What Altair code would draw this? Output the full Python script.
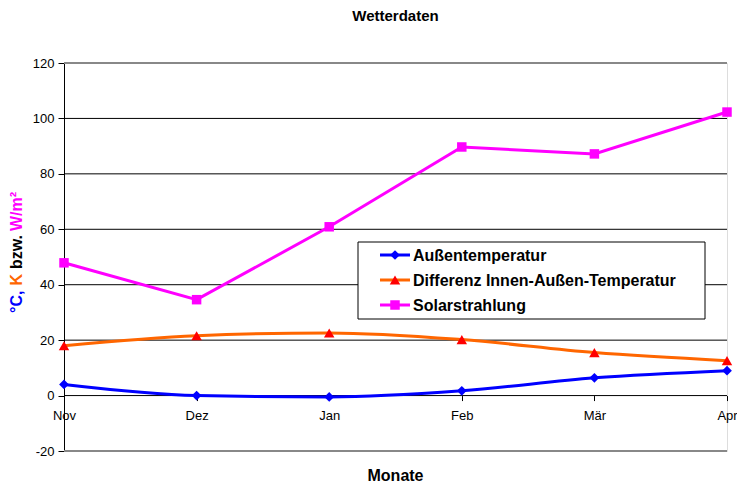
import altair as alt
import pandas as pd

# ---- data ----
months = ["Nov", "Dez", "Jan", "Feb", "Mär", "Apr"]
aussen = [4.0, 0.0, -0.5, 1.7, 6.4, 9.0]
differenz = [18.0, 21.6, 22.6, 20.2, 15.5, 12.6]
solar = [47.9, 34.6, 60.9, 89.7, 87.2, 102.3]

series_names = ["Außentemperatur", "Differenz Innen-Außen-Temperatur", "Solarstrahlung"]
series_values = [aussen, differenz, solar]
line_colors = ["#0000FF", "#FF6600", "#FF00FF"]
marker_colors = ["#0000FF", "#FF0000", "#FF00FF"]
marker_shapes = ["diamond", "triangle-up", "square"]
marker_sizes = [95, 110, 90]
interpolations = ["monotone", "monotone", "linear"]

y_ticks = [-20, 0, 20, 40, 60, 80, 100, 120]
grid_values = [0, 20, 40, 60, 80, 100]
border_values = [-20, 120]

title_text = "Wetterdaten"
x_title = "Monate"
y_title_parts = ["°C,", "K", "bzw.", "W/m²"]
y_title_colors = ["#0000FF", "#FF6600", "#000000", "#FF00FF"]

W, H = 663, 388
FONT = "Liberation Sans"

y_scale = alt.Scale(domain=[-20, 120], nice=False)
x_scale = alt.Scale(type="point", padding=0, domain=months)

zero_offset = -(H * 20 / 140)

x_enc = alt.X(
    "Monat:N", sort=months, scale=x_scale,
    axis=alt.Axis(title=None, offset=zero_offset, domain=False, grid=False,
                  tickColor="black", tickSize=5, labelPadding=9, labelFontSize=13,
                  labelColor="black", labelAngle=0, labelOverlap=False, labelFont=FONT),
)
y_enc_axis = alt.Axis(title=None, values=y_ticks, grid=False, domainColor="black",
                      tickColor="black", tickSize=6, labelPadding=4, labelFontSize=13,
                      labelColor="black", labelFont=FONT,
                      labelExpr="datum.value < 0 ? '-' + abs(datum.value) : '' + datum.value")

rows = []
for name, vals in zip(series_names, series_values):
    for m, v in zip(months, vals):
        rows.append({"Monat": m, "Wert": v, "Serie": name})
df = pd.DataFrame(rows)

layers = []

# border lines (gray) and gridlines (black)
layers.append(
    alt.Chart(pd.DataFrame({"v": border_values})).mark_rule(color="#888888", strokeWidth=2)
    .encode(y=alt.Y("v:Q", scale=y_scale, axis=y_enc_axis))
)
layers.append(
    alt.Chart(pd.DataFrame({"v": grid_values})).mark_rule(color="black", strokeWidth=1)
    .encode(y=alt.Y("v:Q", scale=y_scale, axis=y_enc_axis))
)

for i, name in enumerate(series_names):
    sub = df[df["Serie"] == name]
    layers.append(
        alt.Chart(sub).mark_line(color=line_colors[i], strokeWidth=3, interpolate=interpolations[i])
        .encode(x=x_enc, y=alt.Y("Wert:Q", scale=y_scale, axis=y_enc_axis))
    )
for i, name in enumerate(series_names):
    sub = df[df["Serie"] == name]
    layers.append(
        alt.Chart(sub).mark_point(shape=marker_shapes[i], filled=True, fill=marker_colors[i],
                                  opacity=1, size=marker_sizes[i], strokeWidth=0)
        .encode(x=x_enc, y=alt.Y("Wert:Q", scale=y_scale, axis=y_enc_axis))
    )

# legend box
leg_df = pd.DataFrame({"name": series_names})
layers.append(
    alt.Chart(leg_df.head(1)).mark_rect(fill="white", stroke="black", strokeWidth=1)
    .encode(x=alt.value(294), x2=alt.value(641), y=alt.value(179), y2=alt.value(256))
)
row_y = [192, 217, 242]
for i, name in enumerate(series_names):
    d = pd.DataFrame({"name": [name]})
    layers.append(
        alt.Chart(d).mark_rule(color=line_colors[i], strokeWidth=3)
        .encode(x=alt.value(316), x2=alt.value(346), y=alt.value(row_y[i]))
    )
    layers.append(
        alt.Chart(d).mark_point(shape=marker_shapes[i], filled=True, fill=marker_colors[i],
                                opacity=1, size=marker_sizes[i], strokeWidth=0)
        .encode(x=alt.value(331), y=alt.value(row_y[i]))
    )
    layers.append(
        alt.Chart(d).mark_text(align="left", baseline="middle", font=FONT, fontSize=16,
                               fontWeight="bold", color="black")
        .encode(x=alt.value(349), y=alt.value(row_y[i] + 1), text="name:N")
    )

# title and axis titles
layers.append(
    alt.Chart(pd.DataFrame({"t": [title_text]})).mark_text(
        align="center", baseline="alphabetic", font=FONT, fontSize=15, fontWeight="bold", color="black")
    .encode(x=alt.value(W / 2), y=alt.value(-42), text="t:N")
)
layers.append(
    alt.Chart(pd.DataFrame({"t": [x_title]})).mark_text(
        align="center", baseline="alphabetic", font=FONT, fontSize=16, fontWeight="bold", color="black")
    .encode(x=alt.value(W / 2), y=alt.value(418), text="t:N")
)
y_pos = [250, 222.5, 206, 168]
for part, col, yp in zip(y_title_parts, y_title_colors, y_pos):
    layers.append(
        alt.Chart(pd.DataFrame({"t": [part]})).mark_text(
            align="left", baseline="alphabetic", angle=270, font=FONT, fontSize=16,
            fontWeight="bold", color=col)
        .encode(x=alt.value(-42), y=alt.value(yp), text="t:N")
    )

chart = alt.layer(*layers).properties(
    width=W, height=H,
    autosize=alt.AutoSizeParams(type="none"),
    padding={"left": 56, "top": 55, "right": 10, "bottom": 37},
    background="white",
).configure_view(stroke=None).configure(font=FONT)

chart.save("out.html", embed_options={"renderer": "svg", "actions": False})
